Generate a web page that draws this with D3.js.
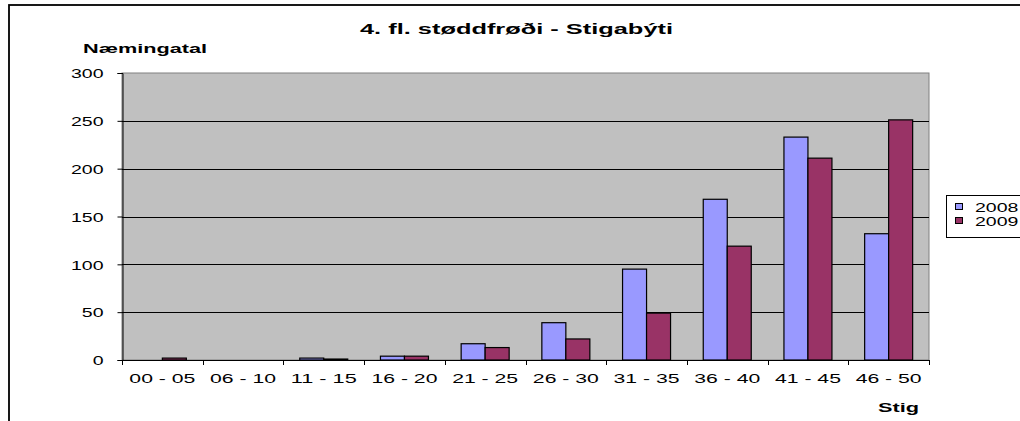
<!DOCTYPE html>
<html>
<head>
<meta charset="utf-8">
<script src="https://cdn.jsdelivr.net/npm/d3@7"></script>
<style>
  html, body { margin: 0; padding: 0; background: #fff; }
  svg { display: block; font-family: Arial, "Liberation Sans", sans-serif; }
</style>
</head>
<body>
<svg id="chart" width="1020" height="421"></svg>
<script>
const categories = ["00 - 05", "06 - 10", "11 - 15", "16 - 20", "21 - 25", "26 - 30", "31 - 35", "36 - 40", "41 - 45", "46 - 50"];
const seriesNames = ["2008", "2009"];
const values2008 = [0, 0, 2, 4, 17, 39, 95, 168, 233, 132];
const values2009 = [2, 0, 1, 4, 13, 22, 49, 119, 211, 251];
const yTicks = [0, 50, 100, 150, 200, 250, 300];
const colors = ["#9999FF", "#993366"];
const titleText = "4. fl. støddfrøði - Stigabýti";
const yTitle = "Næmingatal";
const xTitle = "Stig";

const svg = d3.select("#chart");

function stretch(sel, factor) {
  sel.each(function () {
    const w = this.getComputedTextLength();
    d3.select(this).attr("textLength", w * factor).attr("lengthAdjust", "spacingAndGlyphs");
  });
  return sel;
}
function fixWidth(sel, w) {
  return sel.attr("textLength", w).attr("lengthAdjust", "spacingAndGlyphs");
}

// outer chart border
svg.append("rect").attr("x", 9).attr("y", 5).attr("width", 1200).attr("height", 600)
  .attr("fill", "none").attr("stroke", "#000").attr("stroke-width", 1.8);

const plot = { left: 122, right: 929, top: 73, bottom: 360 };

const x = d3.scaleBand().domain(categories).range([plot.left, plot.right]).paddingInner(0).paddingOuter(0);
const y = d3.scaleLinear().domain([0, 300]).range([plot.bottom, plot.top]);

// plot background
svg.append("rect").attr("x", plot.left).attr("y", plot.top)
  .attr("width", plot.right - plot.left).attr("height", plot.bottom - plot.top)
  .attr("fill", "#C0C0C0").attr("stroke", "#808080").attr("stroke-width", 1);

// gridlines
svg.append("g").selectAll("line").data(yTicks.filter(d => d > 0 && d < 300)).join("line")
  .attr("x1", plot.left).attr("x2", plot.right)
  .attr("y1", d => Math.round(y(d)) + 0.5).attr("y2", d => Math.round(y(d)) + 0.5)
  .attr("stroke", "#000").attr("stroke-width", 1);

// bars
const barW = 24;
const series = [values2008, values2009];
series.forEach((vals, si) => {
  svg.append("g").selectAll("rect").data(vals).join("rect")
    .attr("x", (d, i) => x(categories[i]) + (x.bandwidth() - 2 * barW) / 2 + si * barW)
    .attr("y", d => y(d))
    .attr("width", barW)
    .attr("height", d => y(0) - y(d))
    .attr("fill", colors[si])
    .attr("stroke", "#000").attr("stroke-width", d => d > 0 ? 1.2 : 0);
});

// y axis
const yAxis = svg.append("g").attr("transform", `translate(${plot.left + 0.5},0)`)
  .call(d3.axisLeft(y).tickValues(yTicks).tickSize(5).tickPadding(14));
yAxis.select(".domain").attr("stroke", "#000");
yAxis.selectAll(".tick line").attr("stroke", "#000");
yAxis.selectAll(".tick text").attr("font-size", 13).attr("fill", "#000")
  .attr("font-family", "Arial, 'Liberation Sans', sans-serif")
  .attr("dy", "0.36em");
stretch(yAxis.selectAll(".tick text"), 1.5);

// x axis
const xAxis = svg.append("g").attr("transform", `translate(0,${plot.bottom + 0.5})`)
  .call(d3.axisBottom(x).tickSize(0).tickPadding(13));
xAxis.select(".domain").remove();
svg.append("line").attr("x1", plot.left).attr("x2", plot.right)
  .attr("y1", plot.bottom + 0.5).attr("y2", plot.bottom + 0.5).attr("stroke", "#000").attr("stroke-width", 1.2);
const edges = categories.map(c => x(c)).concat([plot.right]);
svg.append("g").selectAll("line").data(edges).join("line")
  .attr("x1", d => Math.round(d) + 0.5).attr("x2", d => Math.round(d) + 0.5)
  .attr("y1", plot.bottom).attr("y2", plot.bottom + 5)
  .attr("stroke", "#000");
xAxis.selectAll(".tick text").attr("font-size", 13).attr("fill", "#000")
  .attr("font-family", "Arial, 'Liberation Sans', sans-serif");
fixWidth(xAxis.selectAll(".tick text"), 66);

// title
fixWidth(svg.append("text").attr("x", 516.5).attr("y", 34).attr("text-anchor", "middle")
  .attr("font-size", 15).attr("font-weight", "bold").text(titleText), 313);

// axis titles
fixWidth(svg.append("text").attr("x", 83).attr("y", 53)
  .attr("font-size", 12.5).attr("font-weight", "bold").text(yTitle), 124);
fixWidth(svg.append("text").attr("x", 878).attr("y", 412)
  .attr("font-size", 12.5).attr("font-weight", "bold").text(xTitle), 41);

// legend
const lg = svg.append("g");
lg.append("rect").attr("x", 946.5).attr("y", 195.5).attr("width", 120).attr("height", 42)
  .attr("fill", "#fff").attr("stroke", "#000").attr("stroke-width", 1);
seriesNames.forEach((name, i) => {
  lg.append("rect").attr("x", 955.5).attr("y", 203.5 + i * 14).attr("width", 7).attr("height", 6)
    .attr("fill", colors[i]).attr("stroke", "#000").attr("stroke-width", 1);
  stretch(lg.append("text").attr("x", 975).attr("y", 211.5 + i * 14)
    .attr("font-size", 13).text(name), 1.5);
});
</script>
</body>
</html>
